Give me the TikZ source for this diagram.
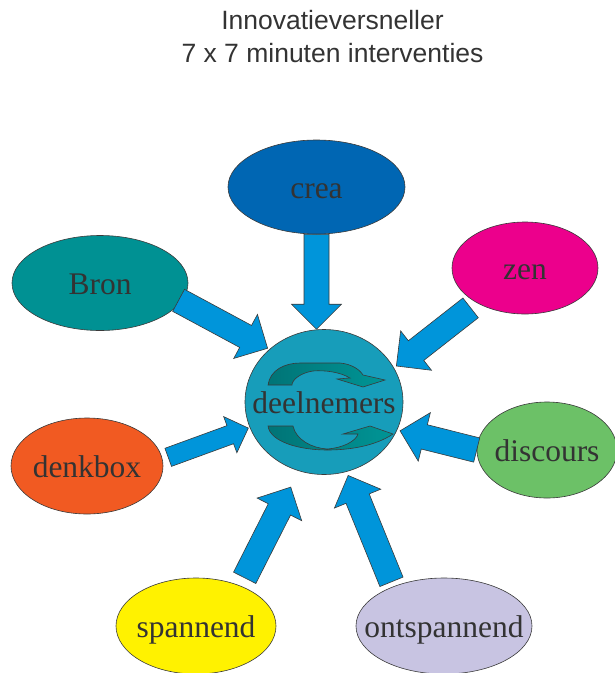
\documentclass[tikz,border=0pt]{standalone}
\usepackage{fontspec}
\setmainfont{Liberation Serif}
\newfontfamily\titelfont{Liberation Sans}
\usetikzlibrary{shapes.geometric,calc}

\definecolor{tekst}{HTML}{333333}
\definecolor{rand}{HTML}{3A3A3A}
\definecolor{pijlblauw}{HTML}{0095DA}
\definecolor{creablauw}{HTML}{0066B3}
\definecolor{zenroze}{HTML}{EC008C}
\definecolor{bronteal}{HTML}{009193}
\definecolor{denkoranje}{HTML}{F15A22}
\definecolor{discgroen}{HTML}{6CC167}
\definecolor{spangeel}{HTML}{FFF200}
\definecolor{ontlila}{HTML}{C8C4E2}
\definecolor{deelblauw}{HTML}{179DBA}
\definecolor{draaidonker}{HTML}{007476}
\definecolor{draailicht}{HTML}{009596}

\tikzset{
  bol/.style={ellipse, draw=rand, line width=0.6pt, inner xsep=-60pt, inner ysep=-20pt,
    text=tekst, font=\fontsize{31.5}{31.5}\selectfont, text height=22pt, text depth=0pt},
  pijlvorm/.style={fill=pijlblauw, draw=rand, line width=0.6pt, line join=miter},
  draai/.style={left color=draaidonker, right color=draailicht, draw=rand, line width=0.6pt},
  titel/.style={anchor=base, text=tekst, font=\titelfont\fontsize{26.5}{26.5}\selectfont}
}

% block arrow: [size] {from} {to} {gap at start} {gap at tip}
\newcommand{\pijl}[5][1]{%
  \path ($(#2)!#4!(#3)$) coordinate (pa) ($(#3)!#5!(#2)$) coordinate (pb);
  \path ($(pb)!{25pt*#1}!(pa)$) coordinate (pc);
  \draw[pijlvorm] ($(pa)!{12.5pt*#1}!90:(pb)$) -- ($(pc)!{12.5pt*#1}!-90:(pa)$)
    -- ($(pc)!{25pt*#1}!-90:(pa)$) -- (pb) -- ($(pc)!{25pt*#1}!90:(pa)$)
    -- ($(pc)!{12.5pt*#1}!90:(pa)$) -- ($(pa)!{12.5pt*#1}!-90:(pb)$) -- cycle;
}

\begin{document}
\begin{tikzpicture}[x=1pt,y=-1pt]
\useasboundingbox (0,0) rectangle (615,673);

\node[titel] (titel1) at (332.5,29) {Innovatieversneller};
\node[titel] (titel2) at (332.5,62) {7 x 7 minuten interventies};

\node[bol, fill=creablauw, minimum width=177pt, minimum height=94pt] (crea) at (316.5,187) {crea};
\node[bol, fill=zenroze, minimum width=146pt, minimum height=92pt] (zen) at (525,268) {zen};
\node[bol, fill=bronteal, minimum width=176pt, minimum height=95pt] (bron) at (100,283) {Bron};
\node[bol, fill=deelblauw, minimum width=158pt, minimum height=145pt] (deel) at (324,402) {deelnemers};
\node[bol, fill=denkoranje, minimum width=152pt, minimum height=96pt] (denkbox) at (87,466) {denkbox};
\node[bol, fill=discgroen, minimum width=140pt, minimum height=96pt] (discours) at (547,450) {discours};
\node[bol, fill=spangeel, minimum width=160pt, minimum height=96pt] (spannend) at (196,626) {spannend};
\node[bol, fill=ontlila, minimum width=176pt, minimum height=96pt] (ontspannend) at (444,626) {ontspannend};

% rondgaande pijlen in de kring
\draw[draai] (268,385) .. controls (270,370) and (285,363) .. (300,363) -- (340,363)
  .. controls (352,364) and (360,370) .. (363,375) -- (385,380) -- (363,387) -- (337,379)
  -- (350,378) .. controls (340,372) and (325,370) .. (313,371)
  .. controls (300,373) and (292,380) .. (292,385) -- cycle;
\draw[draai] (268,426) -- (293,426) .. controls (296,440) and (312,448) .. (327,449)
  .. controls (343,448) and (356,441) .. (358,434) -- (343,434) -- (370,426) -- (393,434)
  .. controls (375,446) and (350,450) .. (327,450)
  .. controls (300,450) and (270,442) .. (268,426) -- cycle;

\coordinate (creapunt) at (crea.south |- deel.north);
\pijl{crea.south}{creapunt}{0pt}{0pt}
\pijl{bron.347}{deel.136}{-3pt}{2pt}
\pijl{zen.216}{deel.26}{8pt}{3pt}
\pijl[0.77]{denkbox.5}{deel.199}{6pt}{1.5pt}
\pijl{discours.180}{deel.339}{0pt}{3pt}
\pijl{spannend.42}{deel.250}{9pt}{18pt}
\pijl{ontspannend.142}{deel.288}{5pt}{4pt}
\end{tikzpicture}
\end{document}
